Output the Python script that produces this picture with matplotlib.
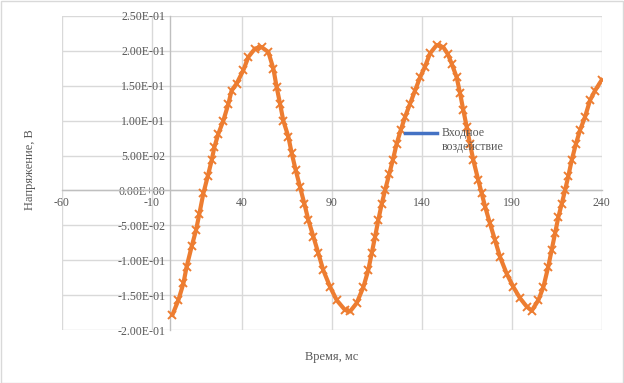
#!/usr/bin/env python3
# Input signal (voltage vs time) recreated from a spreadsheet chart
import matplotlib
matplotlib.use("Agg")
import matplotlib.pyplot as plt
from matplotlib.legend_handler import HandlerLine2D
from matplotlib.lines import Line2D
from matplotlib.patches import Rectangle
from matplotlib.ticker import FuncFormatter

# time, ms
time_ms = [1.5, 4.8, 7.6, 9.4, 12.2, 14.6, 16.5, 18.7, 21.1, 23.3, 24.8, 27.0,
           29.8, 32.6, 34.4, 37.2, 40.9, 43.7, 47.4, 51.1, 54.8, 57.6, 59.4,
           61.3, 63.1, 65.9, 67.8, 70.0, 72.4, 74.8, 77.0, 79.8, 82.6, 85.3,
           89.1, 92.8, 97.4, 100.2, 103.9, 107.6, 110.3, 112.2, 114.1, 115.9,
           117.8, 119.6, 122.0, 123.9, 126.1, 128.3, 130.7, 133.5, 136.3,
           139.1, 141.8, 144.6, 148.3, 152.0, 154.5, 156.7, 159.4, 161.3,
           163.1, 165.0, 166.8, 168.7, 171.4, 173.3, 175.2, 177.9, 180.7,
           183.5, 187.2, 190.9, 194.6, 198.3, 201.1, 204.8, 207.6, 210.3,
           212.2, 214.1, 215.9, 217.8, 219.6, 221.4, 223.3, 225.7, 227.9,
           230.7, 233.5, 236.3, 240.0]
# voltage, V
voltage = [-0.178, -0.157, -0.133, -0.109, -0.080, -0.057, -0.033, -0.004,
           0.020, 0.043, 0.062, 0.081, 0.100, 0.124, 0.143, 0.153, 0.172,
           0.191, 0.203, 0.205, 0.198, 0.174, 0.148, 0.124, 0.100, 0.077,
           0.053, 0.029, 0.005, -0.019, -0.042, -0.066, -0.090, -0.114,
           -0.138, -0.157, -0.171, -0.173, -0.161, -0.138, -0.114, -0.090,
           -0.066, -0.042, -0.019, 0.000, 0.024, 0.043, 0.067, 0.086, 0.105,
           0.124, 0.143, 0.162, 0.177, 0.196, 0.208, 0.205, 0.195, 0.181,
           0.162, 0.139, 0.115, 0.091, 0.067, 0.043, 0.015, -0.004, -0.023,
           -0.047, -0.071, -0.095, -0.119, -0.138, -0.154, -0.166, -0.172,
           -0.157, -0.138, -0.109, -0.085, -0.061, -0.038, -0.019, 0.000,
           0.020, 0.043, 0.067, 0.086, 0.105, 0.129, 0.143, 0.158]

x_ticks = [-60, -10, 40, 90, 140, 190, 240]
y_ticks = [-0.20, -0.15, -0.10, -0.05, 0.0, 0.05, 0.10, 0.15, 0.20, 0.25]
legend_label = "Входное\nвоздействие"

TEXT = "#595959"
GRID = "#d9d9d9"
AXIS = "#bfbfbf"

plt.rcParams['font.family'] = ['Liberation Serif', 'DejaVu Serif']
plt.rcParams['axes.unicode_minus'] = False


class FirstLineHandler(HandlerLine2D):
    # put the legend line next to the first line of a two-line label
    def create_artists(self, legend, orig_handle, xdescent, ydescent,
                       width, height, fontsize, trans):
        arts = super().create_artists(legend, orig_handle, xdescent, ydescent,
                                      width, height, fontsize, trans)
        for a in arts:
            a.set_ydata([y + 0.6 * fontsize for y in a.get_ydata()])
        return arts


fig = plt.figure(figsize=(6.24, 3.83), dpi=100)
ax = fig.add_axes([0.0989, 0.1376, 0.8654, 0.8214])

ax.plot(time_ms, voltage, color="#ed7d31", lw=3, marker="x",
        markersize=6, markeredgewidth=1.4, zorder=3)

ax.set_xlim(-60, 240)
ax.set_ylim(-0.2, 0.25)
ax.set_xticks(x_ticks)
ax.set_yticks(y_ticks)
ax.yaxis.set_major_formatter(FuncFormatter(lambda v, p: f"{v:.2E}"))
ax.grid(True, color=GRID, lw=1)
ax.set_axisbelow(True)

for side in ("top", "right"):
    ax.spines[side].set_visible(False)
ax.spines["left"].set_position(("data", 0))
ax.spines["bottom"].set_position(("data", 0))
for side in ("left", "bottom"):
    ax.spines[side].set_color(AXIS)
    ax.spines[side].set_linewidth(1)
    ax.spines[side].set_zorder(2)

ax.tick_params(length=0, labelsize=8.6, labelcolor=TEXT)
ax.tick_params(axis="x", pad=5)
ax.tick_params(axis="y", pad=3)

fig.text(0.048, 0.556, "Напряжение, В", rotation=90, ha="center",
         va="center", fontsize=9, color=TEXT)
fig.text(0.531, 0.068, "Время, мс", ha="center", va="center",
         fontsize=9, color=TEXT)

handle = Line2D([], [], color="#4472c4", lw=2.5)
ax.legend([handle], [legend_label], loc="upper left",
          bbox_to_anchor=(0.636, 0.645), frameon=False, fontsize=8.6,
          labelcolor=TEXT, handlelength=2.7, handletextpad=0.35,
          borderpad=0, borderaxespad=0,
          handler_map={Line2D: FirstLineHandler()})

fig.patches.append(Rectangle((0.001, 0.001), 0.997, 0.997,
                             transform=fig.transFigure, fill=False,
                             edgecolor=GRID, lw=1))

fig.savefig("out.png", dpi=100)
